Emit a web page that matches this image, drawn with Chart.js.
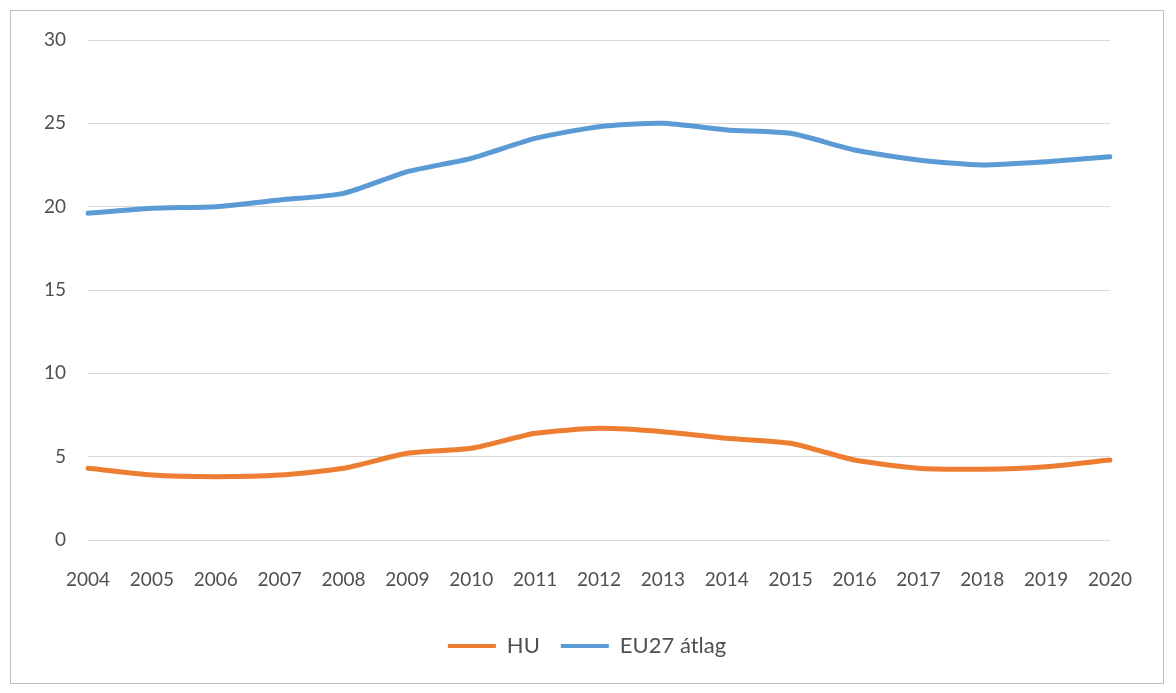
<!DOCTYPE html>
<html>
<head>
<meta charset="utf-8">
<script src="https://cdn.jsdelivr.net/npm/chart.js@4"></script>
<style>
    html, body { margin: 0; padding: 0; background: #fff; }
    #frame {
        position: absolute;
        left: 10px;
        top: 10px;
        width: 1152px;
        height: 672px;
        border: 1px solid #bfbfbf;
    }
</style>
</head>
<body>
<div id="frame"><canvas id="chart" width="1152" height="672"></canvas></div>
<script>
const years = ['2004', '2005', '2006', '2007', '2008', '2009', '2010', '2011', '2012',
    '2013', '2014', '2015', '2016', '2017', '2018', '2019', '2020'];
const huValues = [4.3, 3.9, 3.8, 3.9, 4.3, 5.2, 5.5, 6.4, 6.7, 6.5, 6.1, 5.8, 4.8, 4.3, 4.25, 4.4, 4.8];
const euValues = [19.6, 19.9, 20.0, 20.4, 20.8, 22.1, 22.9, 24.1, 24.8, 25.0, 24.6, 24.4, 23.4, 22.8, 22.5, 22.7, 23.0];
const yTicks = [0, 5, 10, 15, 20, 25, 30];

const textColor = '#505050';
const fontFamily = 'Lato, "Open Sans", sans-serif';

const ctx = document.querySelector('#chart').getContext('2d');

new Chart(ctx, {
    type: 'line',
    data: {
        labels: years,
        datasets: [{
            label: 'HU',
            data: huValues,
            borderColor: '#ED7D31',
            backgroundColor: '#ED7D31',
            borderWidth: 5,
            pointRadius: 0,
            tension: 0.2,
            borderCapStyle: 'round'
        }, {
            label: 'EU27 átlag',
            data: euValues,
            borderColor: '#5B9BD5',
            backgroundColor: '#5B9BD5',
            borderWidth: 5,
            pointRadius: 0,
            tension: 0.2,
            borderCapStyle: 'round'
        }]
    },
    options: {
        responsive: false,
        animation: false,
        layout: {
            padding: { top: 29, right: 0, bottom: 16, left: 0 }
        },
        scales: {
            x: {
                offset: false,
                grid: { display: false, drawTicks: false },
                border: { display: false },
                ticks: {
                    color: textColor,
                    font: { family: fontFamily, size: 19 },
                    padding: 28,
                    maxRotation: 0,
                    autoSkip: false
                },
                afterFit: (scale) => { scale.height = 74; }
            },
            y: {
                min: 0,
                max: 30,
                afterBuildTicks: (scale) => {
                    scale.ticks = yTicks.map(v => ({ value: v }));
                },
                grid: { color: '#d9d9d9', lineWidth: 1, drawTicks: false },
                border: { display: false },
                ticks: {
                    color: textColor,
                    font: { family: fontFamily, size: 19 },
                    padding: 22
                },
                afterFit: (scale) => {
                    // tick padding otherwise pushes the plot area down
                    scale.width = 77;
                    scale.paddingTop = 12;
                    scale.paddingBottom = 12;
                }
            },
            // empty right axis, only keeps space so the legend stays centred on the frame
            right: {
                position: 'right',
                grid: { display: false, drawTicks: false },
                border: { display: false },
                ticks: { display: false },
                afterFit: (scale) => {
                    scale.width = 53;
                    scale.paddingTop = 0;
                    scale.paddingBottom = 0;
                }
            }
        },
        plugins: {
            legend: {
                position: 'bottom',
                labels: {
                    color: textColor,
                    font: { family: fontFamily, size: 22 },
                    boxWidth: 48,
                    boxHeight: 4,
                    padding: 21,
                    generateLabels: (chart) => {
                        const items = Chart.defaults.plugins.legend.labels.generateLabels(chart);
                        return items.map(item => ({ ...item, lineWidth: 0 }));
                    }
                }
            },
            tooltip: { enabled: false }
        }
    }
});
</script>
</body>
</html>
